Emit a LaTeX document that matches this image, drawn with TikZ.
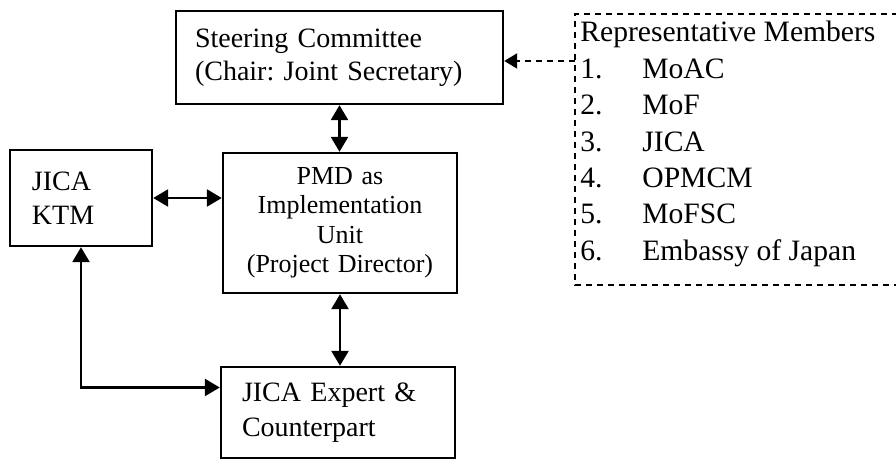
\documentclass[tikz,border=0pt]{standalone}
\usepackage{fontspec}
\setmainfont{Liberation Serif}
\usepackage{tikz}
\usetikzlibrary{arrows.meta}
\frenchspacing
\tikzset{>=latex}
\tikzstyle{unitbox}=[draw,line width=1.2pt,inner ysep=0pt,font=\fontsize{14}{16.5}\selectfont]
\tikzstyle{link}=[{Triangle[length=7.5pt,width=8.5pt]}-{Triangle[length=7.5pt,width=8.5pt]},line width=1.3pt]
\tikzstyle{feed}=[-{Triangle[length=6.5pt,width=7.5pt]},line width=1pt,dash pattern=on 3pt off 2.5pt]
\tikzstyle{memberframe}=[line width=1pt,dash pattern=on 3pt off 2.5pt]

\begin{document}
\begin{tikzpicture}[x=0.5pt,y=-0.5pt]
	
	\useasboundingbox (0,0) rectangle (896,459); % page size of the reference
	
	\node[unitbox,minimum width=163.5pt,minimum height=46.5pt,text width=144.5pt,inner xsep=9.5pt,align=left]
		(steer) at (339.5,57.5) {Steering Committee\\(Chair: Joint Secretary)};
	\node[unitbox,minimum width=71pt,minimum height=48pt,text width=49pt,inner xsep=11pt,align=left,font=\fontsize{14}{17}\selectfont]
		(ktm) at (81,198) {JICA\\KTM};
	\node[unitbox,minimum width=117pt,minimum height=70pt,text width=110pt,inner xsep=3.5pt,align=center,font=\fontsize{13}{14.75}\selectfont]
		(pmd) at (340,223) {PMD as\\Implementation\\Unit\\(Project Director)};
	\node[unitbox,minimum width=117pt,minimum height=45.5pt,text width=96pt,inner xsep=10.5pt,align=left,font=\fontsize{14}{17.5}\selectfont]
		(expert) at (338,412.5) {JICA Expert \&\\Counterpart};
	
	% representative members, frame open to the right
	\draw[memberframe] (898,14) -| (575,285) -- (898,285);
	\node[anchor=north west,inner sep=0pt,align=left,font=\fontsize{14.8}{18.2}\selectfont]
		(members) at (580,21) {Representative Members\\
			\makebox[31pt][l]{1.}MoAC\\
			\makebox[31pt][l]{2.}MoF\\
			\makebox[31pt][l]{3.}JICA\\
			\makebox[31pt][l]{4.}OPMCM\\
			\makebox[31pt][l]{5.}MoFSC\\
			\makebox[31pt][l]{6.}Embassy of Japan};
	\coordinate (memin) at (575,61);
	
	\draw[feed] (memin) -- (memin -| steer.east);
	\draw[link] (steer.south) -- (steer.south |- pmd.north);
	\draw[link] (ktm.east) -- (ktm.east -| pmd.west);
	\draw[link] (pmd.south) -- (pmd.south |- expert.north);
	\draw[link] (ktm.south) |- ([yshift=12.5pt]expert.west);
	
\end{tikzpicture}
\end{document}
